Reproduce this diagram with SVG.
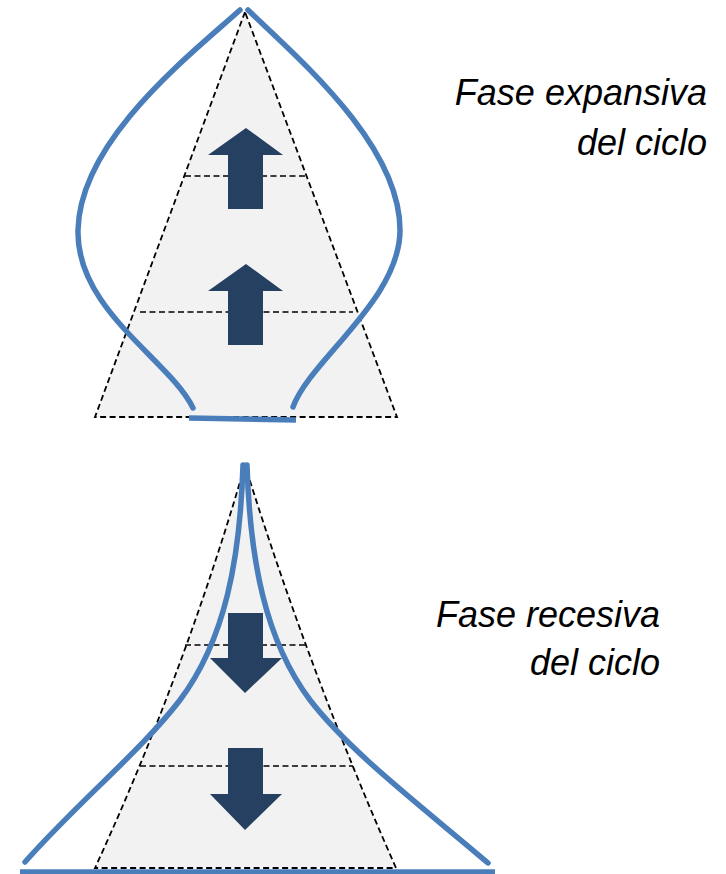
<svg xmlns="http://www.w3.org/2000/svg" width="726" height="874" viewBox="0 0 726 874">
<style>
.tri{fill:#f2f2f2;stroke:#000;stroke-width:1.8;stroke-dasharray:6,3.5}
.dash{fill:none;stroke:#000;stroke-width:1.5;stroke-dasharray:6,3.5}
.arr{fill:#264061}
.blue{fill:none;stroke:#4a7ebb;stroke-width:5.5;stroke-linecap:round}
.lbl{font-family:"Liberation Sans",Arial,sans-serif;font-style:italic;font-size:36px;fill:#000;text-anchor:end}
</style>
<rect width="726" height="874" fill="#fff"/>
<g id="top-pyramid">
<polygon class="tri" points="245,12 95,417 397,417"/>
<line class="dash" x1="185" y1="176" x2="307" y2="176"/>
<line class="dash" x1="140" y1="312" x2="353" y2="312"/>
<polygon class="arr" points="246,128 283,155 263,155 263,209 228,209 228,155 208,155"/>
<polygon class="arr" points="246,264 283,291 263,291 263,345 228,345 228,291 208,291"/>
</g>
<g id="bottom-pyramid">
<path class="tri" d="M245,465 Q185,672 95,868 L396,868 Q309,671 245,465 Z"/>
<line class="dash" x1="185" y1="645" x2="307" y2="645"/>
<line class="dash" x1="140" y1="766" x2="353" y2="766"/>
<polygon class="arr" points="228,613 263,613 263,658 282,658 245,693 210,658 228,658"/>
<polygon class="arr" points="228,748 263,748 263,794 282,794 245,830 210,794 228,794"/>
</g>
<g id="connectors">
<path class="blue" d="M240,10 C190,55 80,140 78,230 C76,310 170,360 193,408"/>
<path class="blue" d="M248,10 C300,60 400,145 400,230 C400,300 310,360 293,407"/>
<line class="blue" x1="189" y1="418" x2="296" y2="420" style="stroke-linecap:butt"/>
<path class="blue" d="M243,465 C240,560 225,640 180,700 C140,752 80,800 25,862"/>
<path class="blue" d="M247,465 C250,560 265,640 310,700 C350,752 420,805 488,863"/>
<line class="blue" x1="20" y1="872" x2="495" y2="872" style="stroke-linecap:butt"/>
</g>
<g id="label-expansiva">
<text class="lbl" x="707" y="105">Fase expansiva</text>
<text class="lbl" x="707" y="155">del ciclo</text>
</g>
<g id="label-recesiva">
<text class="lbl" x="660" y="627">Fase recesiva</text>
<text class="lbl" x="660" y="675">del ciclo</text>
</g>
</svg>
